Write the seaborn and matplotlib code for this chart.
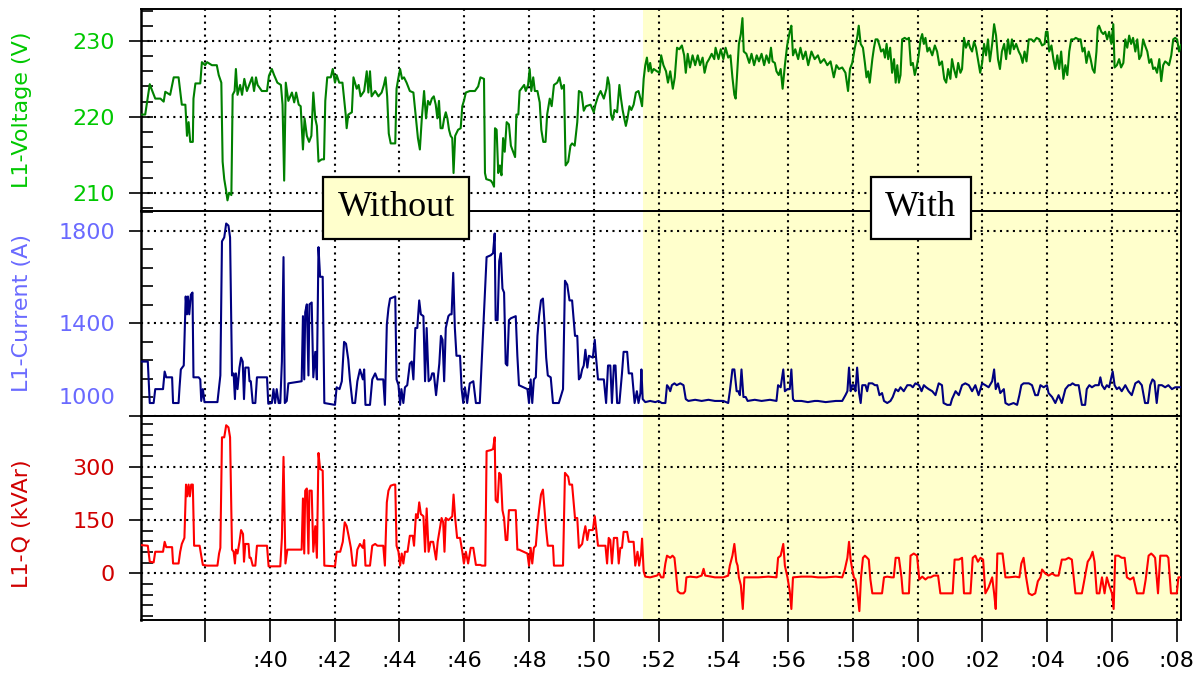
import matplotlib
matplotlib.use("Agg")
import matplotlib.pyplot as plt
import matplotlib.transforms as mtransforms
from matplotlib.ticker import FixedLocator, FuncFormatter
import numpy as np
import pandas as pd
import seaborn as sns

# ---------------- data (time in minutes past the hour, continuing past 60) ----------------
volt_pts = [
    (36.00,220.3),(36.15,220.3),(36.21,222.0),(36.29,224.3),(36.36,223.5),(36.46,222.4),(36.62,222.4),
    (36.72,222.0),(36.77,223.3),(36.92,222.9),(37.03,225.2),(37.18,225.2),(37.28,221.6),(37.39,221.6),
    (37.44,217.5),(37.49,219.3),(37.54,216.7),(37.62,216.7),(37.64,222.4),(37.70,224.4),(37.85,224.4),
    (37.90,227.2),(38.00,226.8),(38.06,227.2),(38.21,226.8),(38.36,226.8),(38.42,225.5),(38.50,224.5),
    (38.54,214.1),(38.59,211.8),(38.64,210.5),(38.69,209.0),(38.74,210.0),(38.81,209.7),(38.85,222.9),
    (38.91,223.4),(38.95,226.3),(39.00,222.9),(39.08,224.2),(39.14,222.9),(39.21,225.0),(39.29,223.4),
    (39.39,224.5),(39.45,225.2),(39.51,223.4),(39.57,225.2),(39.62,224.2),(39.75,223.4),(39.91,223.4),
    (39.97,225.4),(40.06,226.3),(40.13,225.5),(40.23,224.5),(40.34,224.2),(40.39,221.6),(40.44,211.6),
    (40.49,224.5),(40.57,222.1),(40.68,223.2),(40.75,221.9),(40.81,223.2),(40.89,221.6),(40.95,221.4),
    (41.02,215.7),(41.07,219.8),(41.14,217.5),(41.21,216.7),(41.28,217.5),(41.34,223.2),(41.40,219.8),
    (41.45,218.8),(41.50,214.1),(41.60,214.4),(41.67,214.4),(41.71,222.1),(41.77,225.2),(41.88,225.2),
    (41.94,226.3),(42.01,224.5),(42.06,225.5),(42.14,224.5),(42.24,224.5),(42.29,222.4),(42.34,220.3),
    (42.37,218.5),(42.42,220.3),(42.53,220.6),(42.58,225.2),(42.68,223.7),(42.74,224.2),(42.80,222.7),
    (42.91,223.4),(42.99,226.0),(43.04,223.2),(43.09,226.0),(43.14,222.7),(43.25,223.4),(43.35,222.7),
    (43.45,223.2),(43.52,224.2),(43.57,225.2),(43.62,222.7),(43.67,217.8),(43.73,216.5),(43.87,216.5),
    (43.91,223.7),(43.97,225.2),(44.02,226.3),(44.08,225.0),(44.14,225.2),(44.22,224.5),(44.32,223.4),
    (44.43,223.2),(44.51,219.8),(44.57,217.2),(44.63,215.7),(44.69,219.8),(44.76,223.4),(44.82,219.8),
    (44.88,222.1),(44.94,221.6),(45.00,222.4),(45.06,222.7),(45.12,221.6),(45.17,219.8),(45.22,222.1),
    (45.27,218.5),(45.33,218.5),(45.38,219.8),(45.43,220.6),(45.48,219.8),(45.53,218.3),(45.58,217.5),
    (45.63,217.2),(45.67,212.6),(45.72,217.5),(45.81,218.3),(45.89,218.5),(45.94,221.4),(45.99,222.1),
    (46.05,223.2),(46.17,223.4),(46.33,223.4),(46.43,224.0),(46.50,225.2),
    (46.61,225.0),(46.64,212.6),(46.68,211.8),(46.82,211.6),(46.87,211.3),(46.92,210.8),(46.95,218.5),
    (47.00,218.3),(47.05,212.6),(47.10,213.6),(47.15,212.3),(47.20,217.2),(47.25,215.4),(47.31,219.3),
    (47.38,219.0),(47.44,216.2),(47.51,215.4),(47.57,214.7),(47.61,220.3),(47.67,220.3),(47.71,223.4),
    (47.85,224.2),(47.90,223.4),(47.97,224.2),(48.02,226.3),(48.07,223.4),(48.13,225.2),(48.18,223.4),
    (48.26,223.4),(48.33,221.9),(48.38,218.3),(48.44,216.7),(48.51,216.7),(48.56,220.3),(48.64,222.4),
    (48.70,221.4),(48.77,224.2),(48.87,224.5),(48.94,225.2),(49.01,223.7),(49.08,224.2),(49.13,213.6),
    (49.21,214.1),(49.28,216.2),(49.33,216.5),(49.41,216.2),(49.49,219.3),(49.54,223.4),(49.62,223.2),
    (49.69,220.8),(49.76,221.4),(49.90,221.6),(50.00,220.6),(50.05,221.6),(50.13,222.7),(50.21,223.4),
    (50.31,222.4),(50.39,223.7),(50.43,225.2),(50.48,224.2),(50.53,220.3),(50.58,219.6),(50.64,220.9),
    (50.72,220.6),(50.79,224.2),(50.84,222.4),(50.89,220.9),(50.94,219.8),(50.99,218.8),(51.04,219.8),
    (51.10,221.4),(51.16,220.9),(51.23,221.6),(51.30,223.2),(51.38,223.4),(51.44,222.4),(51.49,221.4),
    (51.54,225.0),(51.59,226.8),(51.64,227.8),(51.69,226.0),(51.74,227.1),(51.79,225.8),(51.85,226.3),
    (51.95,226.0),(52.03,225.8),(52.08,228.1),(52.15,226.8),(52.23,226.0),(52.29,224.5),(52.36,226.0),
    (52.44,223.7),(52.50,225.2),(52.57,229.1),(52.64,228.9),(52.72,229.4),(52.79,228.1),(52.84,225.8),
    (52.90,228.3),(52.97,226.5),(53.05,228.1),(53.13,226.8),(53.21,228.1),(53.28,226.8),(53.36,227.8),
    (53.42,225.8),(53.49,227.1),(53.56,227.6),(53.64,228.3),(53.72,227.6),(53.76,229.1),(53.85,227.6),
    (53.92,228.9),(54.00,227.6),(54.07,229.1),(54.15,227.8),(54.22,228.1),(54.28,225.2),(54.34,222.9),
    (54.38,222.4),(54.42,225.2),(54.48,229.6),(54.54,230.9),(54.59,233.0),(54.63,228.6),(54.71,228.3),
    (54.80,227.1),(54.87,228.3),(54.95,226.8),(55.03,228.1),(55.10,227.3),(55.18,228.3),(55.26,226.8),
    (55.33,228.1),(55.41,227.1),(55.47,229.1),(55.52,227.3),(55.59,227.1),(55.64,226.0),(55.71,225.5),
    (55.77,226.3),(55.83,223.7),(55.90,226.8),(55.97,229.4),(56.05,231.2),(56.10,232.0),(56.15,228.1),
    (56.22,228.9),(56.31,227.6),(56.38,229.1),(56.46,227.6),(56.54,228.6),(56.62,226.8),(56.72,228.6),
    (56.82,227.6),(56.92,228.1),
    (57.00,227.1),(57.11,227.6),(57.21,226.8),(57.31,227.3),(57.41,225.2),(57.49,226.8),(57.57,226.3),
    (57.67,226.5),(57.77,225.8),(57.85,223.4),(57.91,226.3),(57.98,227.1),(58.06,229.1),(58.13,230.4),
    (58.18,232.0),(58.24,229.6),(58.31,229.1),(58.37,227.1),(58.42,225.2),(58.47,226.0),(58.52,224.5),
    (58.60,227.6),(58.65,229.1),(58.70,230.2),(58.76,230.2),(58.82,229.4),(58.87,228.6),(58.94,228.9),
    (58.99,227.8),(59.04,229.6),(59.09,227.6),(59.15,229.1),(59.21,225.8),(59.27,227.6),(59.32,224.5),
    (59.37,226.8),(59.42,224.5),(59.47,225.5),(59.52,230.2),(59.60,230.4),(59.67,230.2),(59.73,230.4),
    (59.79,226.8),(59.85,227.1),(59.91,225.5),(59.98,226.8),(60.03,228.1),(60.09,230.2),(60.14,230.9),
    (60.19,229.6),(60.24,230.4),(60.30,228.6),(60.36,229.1),(60.45,228.1),(60.53,229.4),(60.60,228.6),
    (60.67,226.8),(60.75,227.3),(60.82,225.0),(60.88,224.5),(60.94,226.3),(61.01,225.0),(61.06,227.6),
    (61.12,226.3),(61.19,225.2),(61.25,227.1),(61.32,225.8),(61.37,226.3),(61.43,230.4),(61.49,229.1),
    (61.56,229.9),(61.62,229.1),(61.68,228.6),(61.74,229.9),(61.80,229.1),(61.86,227.6),(61.93,225.8),
    (61.99,227.1),(62.05,229.6),(62.11,228.1),(62.17,230.2),(62.23,227.3),(62.30,229.6),(62.36,232.2),
    (62.42,230.7),(62.48,227.6),(62.54,226.3),(62.60,228.6),(62.67,229.6),(62.73,227.6),(62.79,230.2),
    (62.85,228.3),(62.91,230.2),(62.97,228.9),(63.04,229.6),(63.12,228.6),(63.18,228.1),(63.24,227.1),
    (63.30,228.6),(63.36,227.3),(63.43,230.2),(63.51,230.2),(63.59,229.9),(63.67,230.4),(63.76,230.2),
    (63.84,229.4),(63.92,229.6),(63.96,231.2),(64.01,231.2),(64.06,228.6),(64.13,229.4),(64.19,227.6),
    (64.25,226.3),(64.31,228.1),(64.37,226.3),(64.43,228.6),(64.50,225.0),(64.56,226.8),(64.62,225.5),
    (64.68,228.6),(64.74,230.2),(64.82,230.2),(64.88,230.4),(64.97,230.2),(65.03,230.2),(65.09,228.6),
    (65.15,229.1),(65.21,227.1),(65.28,228.6),(65.34,227.6),(65.40,226.3),(65.46,225.8),(65.52,228.6),
    (65.56,231.7),(65.60,232.0),(65.67,231.2),(65.73,230.9),(65.79,231.2),(65.85,230.2),(65.91,231.2),
    (65.98,229.6),(66.04,232.2),(66.08,226.5),(66.15,226.8),(66.22,227.6),(66.28,226.5),(66.35,227.1),
    (66.41,230.2),(66.47,229.1),(66.53,230.7),(66.59,229.6),(66.65,230.4),(66.72,228.6),(66.78,230.2),
    (66.84,227.6),(66.90,228.1),(66.96,230.2),(67.02,229.4),(67.09,228.6),(67.15,227.1),(67.21,227.6),
    (67.27,226.3),(67.33,226.5),(67.39,225.8),(67.46,227.6),(67.52,224.7),(67.58,226.8),(67.64,227.3),
    (67.70,227.1),(67.76,226.8),(67.83,228.1),(67.89,230.2),(67.95,230.4),(68.01,230.2),(68.07,228.6),
    (68.13,229.5),
]

curr_pts = [
    (36.00,1235),(36.23,1235),(36.29,1056),(36.41,1056),(36.46,1116),(36.70,1116),(36.75,1192),(36.80,1167),
    (36.98,1167),(37.01,1056),(37.18,1056),(37.21,1124),(37.25,1201),(37.34,1218),(37.40,1516),(37.44,1439),
    (37.47,1516),(37.51,1439),(37.56,1524),(37.61,1533),(37.64,1167),(37.80,1167),(37.85,1158),(37.88,1065),
    (37.93,1116),(37.98,1060),(38.38,1060),(38.43,1124),(38.47,1175),(38.52,1754),(38.59,1771),(38.65,1831),
    (38.72,1822),(38.77,1771),(38.83,1175),(38.88,1184),(38.92,1073),(38.95,1184),(39.00,1116),(39.06,1209),
    (39.11,1252),(39.16,1235),(39.20,1073),(39.24,1209),(39.34,1209),(39.37,1150),(39.41,1150),(39.47,1056),
    (39.55,1056),(39.60,1167),(39.91,1167),(39.95,1053),(40.06,1056),(40.11,1116),(40.16,1056),(40.21,1116),
    (40.27,1056),(40.32,1056),(40.37,1235),(40.42,1686),(40.46,1056),(40.52,1065),(40.57,1141),(40.98,1150),
    (41.02,1431),(41.06,1158),(41.09,1448),(41.14,1482),(41.19,1175),(41.22,1482),(41.29,1490),(41.34,1167),
    (41.40,1277),(41.45,1158),(41.50,1729),(41.55,1601),(41.63,1601),(41.68,1056),(42.01,1048),(42.06,1124),
    (42.15,1116),(42.22,1150),(42.29,1320),(42.35,1312),(42.42,1243),(42.47,1158),(42.55,1056),(42.63,1056),
    (42.70,1150),(42.78,1201),(42.87,1158),(42.91,1201),(42.95,1048),(43.09,1048),(43.16,1158),(43.25,1184),
    (43.32,1158),(43.50,1158),(43.55,1048),(43.61,1395),(43.66,1465),(43.71,1507),(43.87,1516),(43.91,1158),
    (43.97,1133),(44.02,1048),(44.06,1116),(44.12,1056),(44.17,1124),(44.24,1133),(44.32,1226),(44.38,1235),
    (44.43,1158),(44.49,1380),(44.55,1380),(44.61,1499),(44.66,1439),(44.74,1431),(44.79,1150),(44.84,1380),
    (44.90,1150),(44.96,1158),(45.01,1184),(45.06,1184),(45.13,1090),(45.18,1158),(45.23,1226),(45.28,1346),
    (45.33,1329),(45.38,1150),(45.43,1380),(45.51,1431),(45.56,1439),(45.61,1439),(45.66,1618),(45.71,1380),
    (45.76,1260),(45.87,1260),(45.92,1116),(45.97,1056),(46.02,1124),(46.09,1056),(46.17,1141),(46.28,1150),
    (46.36,1056),(46.48,1056),
    (46.69,1686),(46.82,1694),(46.89,1703),(46.94,1788),(46.97,1414),(47.03,1414),(47.08,1669),(47.13,1703),
    (47.18,1550),(47.23,1533),(47.28,1226),(47.33,1218),(47.38,1414),(47.44,1422),(47.59,1431),(47.64,1260),
    (47.69,1133),(47.95,1116),(48.00,1056),(48.05,1158),(48.10,1056),(48.15,1158),(48.21,1167),(48.26,1346),
    (48.31,1431),(48.37,1499),(48.43,1507),(48.48,1397),(48.53,1252),(48.58,1175),(48.67,1167),(48.74,1056),
    (48.92,1056),(49.05,1116),(49.11,1584),(49.18,1567),(49.25,1499),(49.33,1499),(49.42,1346),(49.49,1346),
    (49.54,1158),(49.59,1167),(49.64,1201),(49.69,1218),(49.74,1286),(49.80,1209),(49.85,1260),(49.97,1252),
    (50.03,1329),(50.07,1252),(50.13,1158),(50.31,1158),(50.38,1056),(50.44,1218),(50.51,1218),(50.56,1056),
    (50.62,1218),(50.67,1218),(50.72,1056),(50.79,1056),(50.87,1184),(50.92,1277),(51.03,1277),(51.08,1184),
    (51.18,1184),(51.26,1056),(51.33,1107),(51.38,1056),(51.44,1099),(51.47,1201),(51.51,1073),(51.59,1060),
    (51.74,1065),(51.90,1060),(52.00,1065),(52.10,1056),(52.21,1056),(52.26,1133),(52.31,1124),(52.36,1107),
    (52.41,1133),(52.49,1141),(52.56,1133),(52.67,1141),(52.77,1133),(52.84,1073),(52.92,1065),(53.13,1070),
    (53.33,1065),(53.54,1070),(53.74,1065),(54.00,1065),(54.15,1056),(54.20,1107),(54.28,1201),(54.34,1201),
    (54.41,1107),(54.46,1107),(54.51,1090),(54.56,1201),(54.62,1082),(54.69,1082),(54.75,1065),(54.97,1070),
    (55.18,1065),(55.44,1070),(55.64,1065),(55.69,1133),(55.77,1124),(55.85,1201),(55.90,1107),(55.98,1116),
    (56.05,1116),(56.10,1201),(56.15,1073),(56.20,1065),(56.41,1065),(56.61,1060),(56.82,1065),(56.92,1065),
    (57.16,1060),(57.47,1065),(57.67,1065),(57.77,1090),(57.83,1107),(57.88,1209),(57.93,1107),(57.98,1133),
    (58.03,1133),(58.08,1107),(58.13,1209),(58.19,1099),(58.24,1056),(58.29,1133),(58.39,1133),(58.44,1107),
    (58.49,1141),(58.60,1141),(58.68,1133),(58.75,1133),(58.82,1090),(58.90,1099),(58.96,1065),(59.06,1056),
    (59.16,1065),(59.23,1082),(59.32,1116),(59.40,1107),(59.47,1124),(59.57,1107),(59.68,1133),(59.78,1133),
    (59.85,1124),(59.93,1141),(60.04,1133),(60.12,1107),(60.19,1133),(60.26,1124),(60.34,1116),(60.45,1107),
    (60.55,1090),(60.65,1141),(60.75,1133),(60.80,1056),(60.91,1048),(61.01,1048),(61.06,1073),(61.17,1107),
    (61.27,1090),(61.37,1133),(61.47,1141),(61.58,1133),(61.68,1107),(61.78,1133),(61.88,1090),(61.99,1141),
    (62.09,1133),(62.19,1124),(62.30,1150),(62.36,1201),(62.41,1116),(62.48,1141),(62.55,1099),(62.66,1116),
    (62.71,1056),(62.81,1048),(62.96,1056),(63.07,1048),(63.14,1090),(63.20,1133),(63.27,1141),(63.43,1141),
    (63.53,1133),(63.63,1090),(63.71,1090),(63.79,1133),(63.89,1124),(63.99,1133),(64.04,1099),(64.15,1082),
    (64.25,1056),(64.35,1090),(64.45,1056),(64.56,1116),(64.66,1133),(64.71,1133),(64.78,1141),(64.87,1133),
    (64.97,1133),(65.07,1048),(65.17,1048),(65.22,1116),(65.30,1133),(65.38,1124),(65.48,1133),(65.59,1133),
    (65.64,1167),(65.69,1133),(65.77,1116),(65.84,1133),(65.91,1124),(66.02,1192),(66.08,1133),(66.15,1116),
    (66.22,1124),(66.30,1107),(66.41,1133),(66.51,1107),(66.61,1090),(66.72,1141),(66.82,1150),(66.92,1133),
    (67.02,1056),(67.11,1056),(67.18,1133),(67.25,1158),(67.31,1150),(67.38,1056),(67.44,1133),(67.54,1133),
    (67.64,1124),(67.74,1133),(67.85,1116),(67.95,1124),(68.05,1124),(68.13,1124),
]

q_pts = [
    (36.00,80),(36.23,78),(36.29,33),(36.41,31),(36.46,61),(36.70,61),(36.75,89),(36.80,74),(36.98,74),
    (37.01,28),(37.18,28),(37.23,61),(37.28,83),(37.36,100),(37.41,250),(37.45,217),(37.49,250),(37.53,217),
    (37.57,250),(37.62,250),(37.66,78),(37.83,78),(37.88,50),(37.93,24),(38.06,22),(38.38,22),(38.43,56),
    (38.47,72),(38.52,383),(38.59,383),(38.65,417),(38.72,411),(38.77,383),(38.83,67),(38.88,61),(38.92,28),
    (38.95,67),(39.00,56),(39.06,89),(39.11,122),(39.17,111),(39.20,33),(39.24,83),(39.34,83),(39.37,44),
    (39.41,44),(39.47,22),(39.55,22),(39.60,78),(39.91,78),(39.96,20),(40.32,20),(40.37,100),(40.42,328),
    (40.48,28),(40.54,67),(40.83,67),(40.98,67),(41.02,211),(41.06,56),(41.09,233),(41.14,239),(41.19,56),
    (41.22,233),(41.29,233),(41.34,61),(41.40,133),(41.45,44),(41.50,339),(41.55,294),(41.63,289),(41.68,22),
    (42.01,20),(42.06,61),(42.17,61),(42.25,89),(42.31,144),(42.37,133),(42.43,106),(42.50,72),(42.56,22),
    (42.65,22),(42.70,67),(42.78,83),(42.87,72),(42.91,94),(42.95,22),(43.09,22),(43.16,78),(43.25,83),
    (43.32,78),(43.50,78),(43.55,22),(43.61,200),(43.66,233),(43.73,247),(43.83,250),(43.87,250),(43.91,78),
    (43.97,61),(44.02,22),(44.07,56),(44.12,28),(44.17,61),(44.25,61),(44.32,106),(44.41,106),(44.45,78),
    (44.51,167),(44.56,156),(44.61,200),(44.66,167),(44.74,161),(44.79,61),(44.84,183),(44.90,61),(44.96,89),
    (45.04,89),(45.13,39),(45.18,89),(45.25,128),(45.30,156),(45.35,144),(45.39,61),(45.43,156),(45.51,150),
    (45.58,156),(45.63,161),(45.67,222),(45.72,156),(45.78,100),(45.87,100),(45.94,61),(45.99,28),(46.05,61),
    (46.12,28),(46.20,72),(46.28,72),(46.36,24),(46.50,24),
    (46.54,22),(46.65,22),(46.69,344),(46.82,347),(46.89,350),(46.94,383),(46.97,206),(47.03,200),(47.08,283),
    (47.13,278),(47.18,178),(47.23,156),(47.28,94),(47.33,94),(47.38,178),(47.44,178),(47.59,178),(47.64,67),
    (47.69,67),(47.95,56),(48.00,22),(48.05,72),(48.10,28),(48.15,72),(48.21,78),(48.26,133),(48.31,178),
    (48.37,222),(48.43,236),(48.48,178),(48.53,122),(48.58,78),(48.74,78),(48.77,22),(49.05,22),(49.11,283),
    (49.21,272),(49.25,250),(49.33,250),(49.42,156),(49.49,156),(49.54,72),(49.64,83),(49.69,111),(49.74,133),
    (49.80,94),(49.85,122),(49.97,122),(50.03,161),(50.07,128),(50.13,78),(50.36,78),(50.41,28),(50.46,100),
    (50.51,94),(50.56,28),(50.62,100),(50.72,100),(50.77,28),(50.82,72),(50.87,72),(50.92,117),(51.03,117),
    (51.08,89),(51.23,89),(51.28,22),(51.35,61),(51.40,22),(51.46,56),(51.49,98),(51.54,6),(51.59,-9),
    (51.74,-11),(51.95,-6),(52.02,0),(52.08,-11),(52.15,-11),(52.21,28),(52.26,50),(52.36,44),(52.43,50),
    (52.49,44),(52.54,0),(52.59,-50),(52.67,-56),(52.77,-56),(52.82,-50),(52.86,-11),(52.97,-9),(53.18,-11),
    (53.33,-6),(53.39,13),(53.44,-6),(53.74,-11),(54.00,-11),(54.15,-6),(54.20,22),(54.28,50),(54.34,83),
    (54.40,33),(54.44,22),(54.48,-11),(54.54,-33),(54.60,-100),(54.65,-11),(54.77,-11),(55.08,-11),(55.39,-9),
    (55.64,-11),(55.69,44),(55.77,50),(55.85,83),(55.90,22),(55.98,-11),(56.05,-50),(56.10,-100),(56.15,-11),
    (56.41,-9),(56.72,-9),(56.92,-11),
    (57.16,-11),(57.47,-9),(57.67,-11),(57.75,11),(57.83,44),(57.88,89),(57.93,39),(57.98,11),(58.03,-11),
    (58.08,-17),(58.14,-56),(58.20,-106),(58.25,-11),(58.31,44),(58.37,50),(58.44,44),(58.49,39),(58.54,-17),
    (58.60,-56),(58.85,-56),(58.90,-56),(58.96,-11),(59.06,-9),(59.19,-11),(59.26,-11),(59.32,44),(59.42,44),
    (59.50,-11),(59.54,-56),(59.73,-56),(59.78,50),(59.88,56),(59.98,50),(60.05,-17),(60.14,-9),(60.24,-17),
    (60.32,-11),(60.40,-11),(60.50,-6),(60.63,-6),(60.70,-56),(60.96,-56),(61.08,-56),(61.14,39),(61.27,39),
    (61.37,44),(61.43,-56),(61.63,-56),(61.70,44),(61.78,50),(61.86,33),(61.94,44),(62.02,39),(62.09,-56),
    (62.19,-39),(62.30,-11),(62.36,-56),(62.41,-100),(62.46,56),(62.55,56),(62.62,56),(62.71,-11),(62.81,-11),
    (63.02,-9),(63.14,-11),(63.20,28),(63.27,44),(63.34,-6),(63.43,-56),(63.53,-61),(63.63,-56),(63.71,-22),
    (63.79,-11),(63.84,11),(63.94,0),(64.04,-6),(64.15,0),(64.25,-6),(64.35,-6),(64.45,39),(64.56,39),
    (64.66,44),(64.76,39),(64.87,-56),(65.00,-56),(65.07,-56),(65.17,-6),(65.25,33),(65.33,44),(65.40,61),
    (65.46,33),(65.53,-56),(65.61,-56),(65.69,-11),(65.77,-56),(65.84,-11),(65.91,-33),(66.00,-56),(66.05,-100),
    (66.10,50),(66.20,50),(66.30,44),(66.39,44),(66.46,-11),(66.56,-17),(66.66,-11),(66.77,-56),(66.87,-56),
    (66.97,-56),(67.04,-17),(67.13,50),(67.21,56),(67.28,50),(67.33,44),(67.42,-56),(67.49,50),(67.59,50),
    (67.69,50),(67.74,44),(67.82,-56),(67.93,-56),(68.00,-56),(68.05,-11),(68.10,-11),(68.13,-11),
]

x_ticks = list(range(38, 69, 2))
with_start = 51.51
x_limits = (36.02, 68.13)

volt_ticks = [210, 220, 230]
curr_ticks = [1000, 1400, 1800]
q_ticks = [0, 150, 300]

panel_labels = ["L1-Voltage (V)", "L1-Current (A)", "L1-Q (kVAr)"]
box_labels = ["Without", "With"]
box_x = [43.9, 60.1]

# ---------------- style ----------------
sns.set_style("white")
plt.rcParams["font.family"] = ["DejaVu Sans"]

fig = plt.figure(figsize=(11.98, 6.73), dpi=100)
L, W = 141 / 1198, 1040 / 1198
ax_v = fig.add_axes([L, 1 - 211 / 673, W, 202 / 673])
ax_c = fig.add_axes([L, 1 - 416 / 673, W, 205 / 673])
ax_q = fig.add_axes([L, 1 - 620 / 673, W, 204 / 673])
ax_v.set_zorder(5)

line_cols = ["#008000", "#000080", "#FF0000"]
lab_cols = ["#00C800", "#6A6AFF", "#D00000"]

dfs = [
    pd.DataFrame(volt_pts, columns=["t", "y"]),
    pd.DataFrame(curr_pts, columns=["t", "y"]),
    pd.DataFrame(q_pts, columns=["t", "y"]),
]
ylims = [(207.6, 234.2), (1000, 1885), (-131, 443)]
majors = [volt_ticks, curr_ticks, q_ticks]
minors = [np.arange(208, 235, 2), np.arange(1000, 1885, 80), np.arange(-120, 443, 30)]
axes = [ax_v, ax_c, ax_q]

for i, ax in enumerate(axes):
    ax.axvspan(with_start, x_limits[1] + 1, color="#FFFFCC", lw=0, zorder=0)
    sns.lineplot(data=dfs[i], x="t", y="y", ax=ax, color=line_cols[i], lw=1.5,
                 estimator=None, sort=False, zorder=3)
    ax.set_xlim(*x_limits)
    ax.set_ylim(*ylims[i])
    ax.set_xlabel("")
    ax.set_ylabel("")
    ax.set_xticks(x_ticks)
    ax.yaxis.set_major_locator(FixedLocator(majors[i]))
    ax.yaxis.set_minor_locator(FixedLocator(minors[i]))
    ax.grid(True, which="major", color="black", linestyle=(0, (1, 2.1)), linewidth=1.5)
    ax.grid(False, which="minor")
    for sp in ax.spines.values():
        sp.set_visible(True)
        sp.set_color("black")
        sp.set_linewidth(1.4)
    ax.spines["left"].set_linewidth(1.8)
    mdir = "inout" if i == 0 else "out"
    mlen = 17 if i == 0 else 8.6
    ax.tick_params(axis="y", which="major", left=True, right=False, direction=mdir,
                   length=mlen, width=1.2, color="black", labelsize=16,
                   labelcolor=lab_cols[i], pad=10)
    ax.tick_params(axis="y", which="minor", left=True, right=False, direction="in",
                   length=8.6, width=1.2, color="black")
    ax.tick_params(axis="x", which="minor", bottom=False, top=False)
    if i < 2:
        ax.tick_params(axis="x", which="major", bottom=False, top=False, labelbottom=False)
    fig.text(22 / 1198, (ax.get_position().y0 + ax.get_position().y1) / 2 - (0.008 if i == 2 else 0),
             panel_labels[i], rotation=90, ha="center", va="center", fontsize=16, color=lab_cols[i])

# current panel: lowest label sits inside the axis range (nudged up)
ax_c.set_yticklabels(["", "1400", "1800"])
ax_c.annotate("1000", xy=(0, curr_ticks[0]), xycoords=("axes fraction", "data"),
              xytext=(-26, 18), textcoords="offset pixels", ha="right", va="center",
              fontsize=16, color=lab_cols[1], annotation_clip=False)

ax_q.tick_params(axis="x", which="major", bottom=True, top=False, direction="out",
                 length=16, width=1.2, color="black", labelsize=16, labelcolor="black", pad=6)
ax_q.xaxis.set_major_formatter(FuncFormatter(
    lambda v, p: "" if int(round(v)) == 38 else ":%02d" % (int(round(v)) % 60)))

blend = mtransforms.blended_transform_factory(ax_v.transData, ax_v.transAxes)
faces = ["#FFFFCC", "#FFFFFF"]
for lab, bx, fc in zip(box_labels, box_x, faces):
    ax_v.text(bx, 0.015, lab, transform=blend, ha="center", va="center",
              fontsize=26, family="Liberation Serif", color="black", zorder=10,
              bbox=dict(boxstyle="square,pad=0.4", fc=fc, ec="black", lw=1.6), clip_on=False)

fig.savefig("out.png", dpi=100)
